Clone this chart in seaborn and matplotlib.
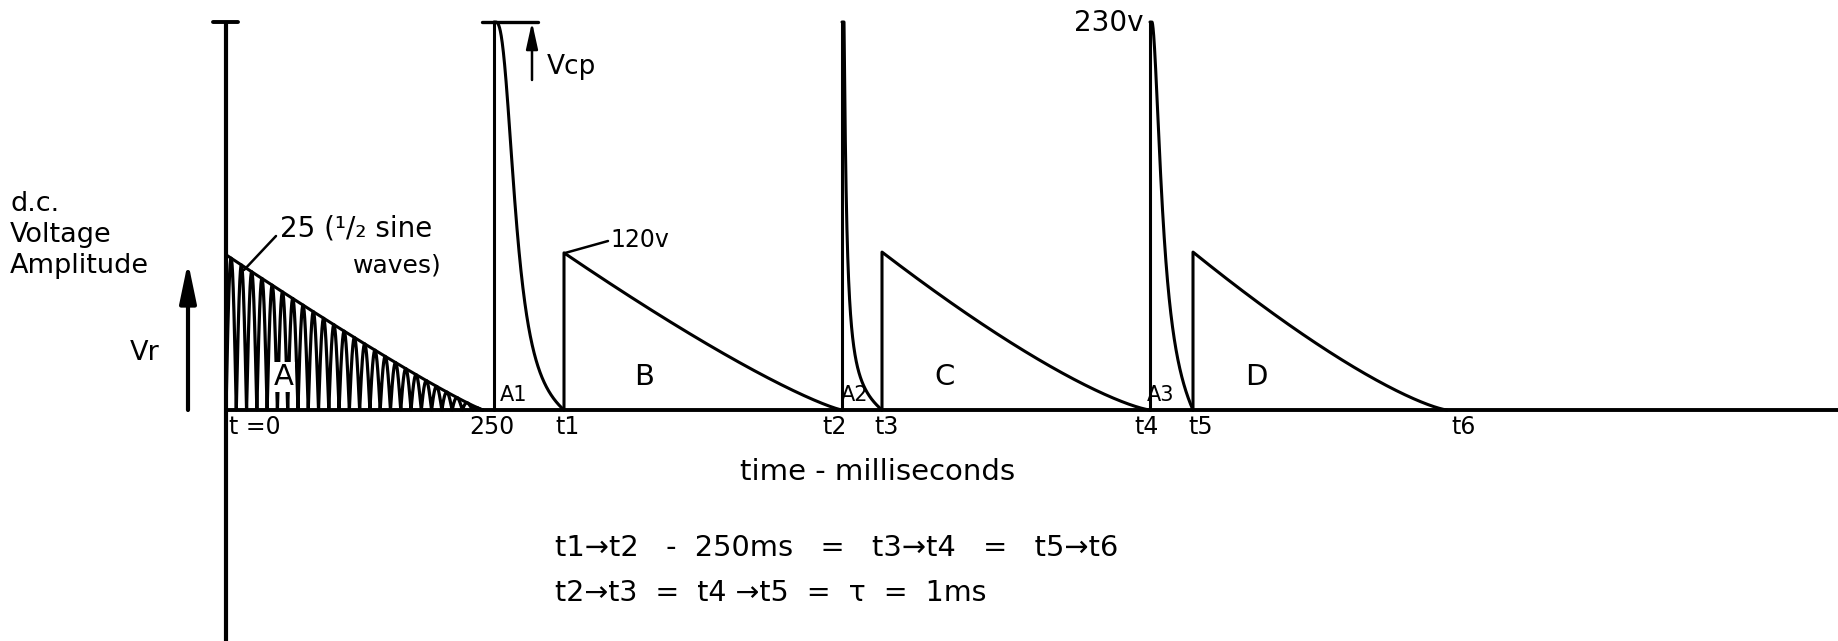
import numpy as np
import pandas as pd
import matplotlib
matplotlib.use("Agg")
import matplotlib.pyplot as plt
import seaborn as sns

# ---------------- data (schematic units) ----------------
# time positions of the events along the (not-to-scale) time axis
event_labels = ["t =0", "250", "t1", "t2", "t3", "t4", "t5", "t6"]
event_pos = [0, 268, 338, 616, 656, 924, 967, 1221]
# rectified sine burst (region A)
ripple_count = 25
ripple_start_amp = 0.40
ripple_end = 257
# capacitor discharge spikes (A1, A2, A3) relative to Vcp
spike_names = ["A1", "A2", "A3"]
spike_peak = 1.0
spike_halfwidth = [0.30, 0.07, 0.28]
spike_steepness = [2.5, 1.2, 1.8]
# decaying pulses (B, C, D) relative to Vcp
pulse_names = ["B", "C", "D"]
pulse_peak = [0.405, 0.407, 0.407]
pulse_curvature = [1.2, 1.3, 1.3]

# ---------------- style ----------------
sns.set_theme(style="white")
plt.rcParams["font.family"] = ["DejaVu Sans"]

W, H = 1838, 641
fig = plt.figure(figsize=(W / 100, H / 100), dpi=100)
ax = fig.add_axes([0, 0, 1, 1])
X0, Y0, YS = 226, 410, 388  # layout mapping of the drawing
ax.set_xlim(-X0, W - X0)
ax.set_ylim(-(H - Y0) / YS, Y0 / YS)
ax.axis("off")


def X(px):
    return px - X0


def Y(py):
    return (Y0 - py) / YS


# ---------------- build curves ----------------
parts = []


def add(seg, xs, ys):
    parts.append(pd.DataFrame({"t": np.asarray(xs, float), "v": np.asarray(ys, float), "seg": seg}))


u = np.linspace(0, 1, 600)
for i in range(3):
    ts, te = event_pos[1 + 2 * i], event_pos[2 + 2 * i]
    add(f"rise{i}", [ts, ts], [0, spike_peak])
    h = 1 / (1 + (u / spike_halfwidth[i]) ** spike_steepness[i])
    h = h - u * h[-1]
    xs0 = ts + 2
    add(f"decay{i}", np.r_[ts, xs0 + u * (te - xs0)], np.r_[spike_peak, spike_peak * h])

for i in range(3):
    ts, te = event_pos[2 + 2 * i], event_pos[3 + 2 * i]
    add(f"pulse{i}", np.r_[ts, ts + u * (te - ts)],
        np.r_[0, pulse_peak[i] * (1 - u) ** pulse_curvature[i]])

add("env", u * ripple_end, ripple_start_amp * (1 - u) ** 1.1)
curves = pd.concat(parts, ignore_index=True)

xr = np.linspace(0, ripple_end, 8000)
env = ripple_start_amp * (1 - xr / ripple_end) ** 1.1
ripple = pd.DataFrame({"t": xr, "v": env * np.abs(np.sin(np.pi * ripple_count * xr / ripple_end)), "seg": "r"})

sns.lineplot(data=ripple, x="t", y="v", units="seg", estimator=None, sort=False,
             color="black", lw=2.3, ax=ax, legend=False)
sns.lineplot(data=curves, x="t", y="v", units="seg", estimator=None, sort=False,
             color="black", lw=2.2, ax=ax, legend=False)

# axes of the diagram
ax.plot([0, 0], [ax.get_ylim()[0], spike_peak], color="black", lw=3.0, solid_capstyle="butt")
ax.plot([0, ax.get_xlim()[1]], [0, 0], color="black", lw=2.8, solid_capstyle="butt")
ax.plot([X(213), X(238)], [spike_peak, spike_peak], color="black", lw=2.8)
ax.plot([X(482), X(538)], [spike_peak, spike_peak], color="black", lw=2.4)

# arrows
ax.annotate("", xy=(X(532), Y(22)), xytext=(X(532), Y(80)),
            arrowprops=dict(arrowstyle="-|>,head_width=0.22,head_length=1.0", lw=1.8,
                            color="black", shrinkA=0, shrinkB=0, mutation_scale=16))
ax.annotate("", xy=(X(188), Y(262)), xytext=(X(188), Y(410)),
            arrowprops=dict(arrowstyle="-|>,head_width=0.25,head_length=1.2", lw=3.0,
                            color="black", shrinkA=0, shrinkB=0, mutation_scale=20))

# leader lines
ax.plot([X(244), X(276)], [Y(270), Y(236)], color="black", lw=1.8)
ax.plot([X(565), X(608)], [Y(253), Y(241)], color="black", lw=1.8)

# event labels below the baseline
label_dx = [3, -2, 4, -7, 5, -3, 8, 17]
for lab, pos, dx in zip(event_labels, event_pos, label_dx):
    ha = "left" if lab.startswith("t =") else "center"
    ax.text(pos + dx, Y(427), lab, ha=ha, va="center", fontsize=17, color="black")

# region labels
ax.text(X(284), Y(377), "A", ha="center", va="center", fontsize=21, color="black",
        bbox=dict(facecolor="white", edgecolor="none", pad=1.0))
for name, cx in zip(pulse_names, [644, 945, 1256]):
    ax.text(X(cx), Y(377), name, ha="center", va="center", fontsize=21, color="black")
for name, cx in zip(spike_names, [514, 855, 1161]):
    ax.text(X(cx), Y(395), name, ha="center", va="center", fontsize=15, color="black")

# value annotations
ax.text(X(547), Y(67), "Vcp", ha="left", va="center", fontsize=19, color="black")
ax.text(X(610), Y(240), "120v", ha="left", va="center", fontsize=17, color="black")
ax.text(X(1143), Y(23), "230v", ha="right", va="center", fontsize=20, color="black")
ax.text(X(280), Y(229), "25 (¹/₂ sine", ha="left", va="center", fontsize=20, color="black")
ax.text(X(353), Y(266), "waves)", ha="left", va="center", fontsize=18, color="black")

# y-axis description
ax.text(X(10), Y(204), "d.c.", ha="left", va="center", fontsize=19.5, color="black")
ax.text(X(10), Y(235), "Voltage", ha="left", va="center", fontsize=19.5, color="black")
ax.text(X(10), Y(266), "Amplitude", ha="left", va="center", fontsize=19.5, color="black")
ax.text(X(130), Y(353), "Vr", ha="left", va="center", fontsize=19.5, color="black")

# x-axis description and notes
ax.text(X(878), Y(472), "time - milliseconds", ha="center", va="center", fontsize=21, color="black")
ax.text(X(555), Y(548), "t1→t2   -  250ms   =   t3→t4   =   t5→t6", ha="left", va="center",
        fontsize=20.8, color="black")
ax.text(X(555), Y(593), "t2→t3  =  t4 →t5  =  τ  =  1ms", ha="left", va="center",
        fontsize=20.5, color="black")

fig.savefig("out.png", dpi=100, facecolor="white")
